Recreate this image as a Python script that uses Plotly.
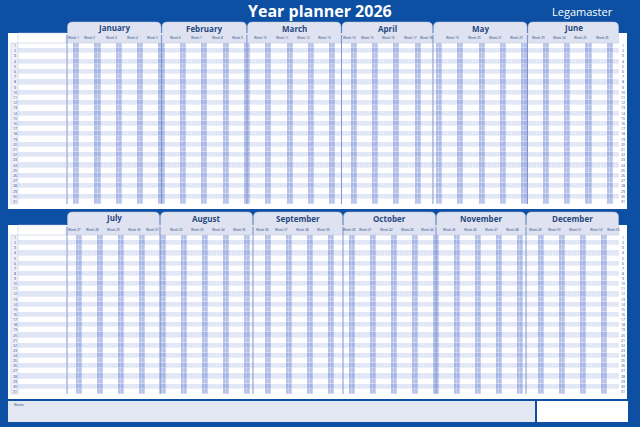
import plotly.graph_objects as go
import datetime as dt

title = "Year planner 2026"
brand = "Legamaster"
months_h1 = [1, 2, 3, 4, 5, 6]
months_h2 = [7, 8, 9, 10, 11, 12]
year = 2026
n_rows = 31

BG = "#0c4fa3"
TAB = "#dfe3f1"
DARK = "#27477f"

fig = go.Figure()
shapes = []
ann = []

CS = [[0, "#ffffff"], [0.2, "#ffffff"], [0.2, "#e1e6f6"], [0.45, "#e1e6f6"],
      [0.45, "#b6c2ea"], [0.8, "#b6c2ea"], [0.8, "#a5b4e3"], [1, "#a5b4e3"]]

def half(months_idx, top, grid_top, grid_bot, x_left=67, x_right=619):
    days = []
    for m in months_idx:
        d = dt.date(year, m, 1)
        while d.month == m:
            days.append(d)
            d += dt.timedelta(days=1)
    n = len(days)
    dx = (x_right - x_left) / n
    xe = [x_left + dx * i for i in range(n + 1)]
    rh = (grid_bot - grid_top) / n_rows
    ye = [grid_top + rh * r for r in range(n_rows + 1)]
    ys = [grid_top + rh * (r + 0.5) for r in range(n_rows)]
    z = []
    for r in range(n_rows):
        row = []
        for d in days:
            if d.weekday() >= 5:
                row.append(3 if r % 2 else 2)
            else:
                row.append(1 if r % 2 else 0)
        z.append(row)
    shapes.append(dict(type="rect", x0=8, x1=627, y0=grid_top - 10, y1=grid_bot + 5,
                       fillcolor="white", line_width=0, layer="below"))
    fig.add_trace(go.Heatmap(x=xe, y=ye, z=z, zmin=0, zmax=3, showscale=False, xgap=0.25, ygap=0.3,
                             colorscale=CS, hoverinfo="skip"))
    zn = [[1 if r % 2 else 0] for r in range(n_rows)]
    fig.add_trace(go.Heatmap(x=[18, x_left - 1], y=ye, z=zn, zmin=0, zmax=3, showscale=False, ygap=0.3,
                             colorscale=CS, hoverinfo="skip"))
    shapes.append(dict(type="rect", x0=11, x1=18, y0=grid_top, y1=grid_bot,
                       fillcolor="#eef1f8", line=dict(color="#b8c3df", width=0.5)))
    shapes.append(dict(type="rect", x0=18, x1=x_left - 1, y0=grid_top - 10, y1=grid_top,
                       fillcolor="white", line=dict(color="#b8c3df", width=0.5)))
    for r in range(n_rows):
        ann.append(dict(x=14.5, y=ys[r], text=str(r + 1), showarrow=False, font=dict(size=3.5, color=DARK)))
        ann.append(dict(x=623, y=ys[r], text=str(r + 1), showarrow=False, font=dict(size=3.5, color=DARK)))
    for m in months_idx:
        md = [i for i, d in enumerate(days) if d.month == m]
        a, b = x_left + dx * md[0], x_left + dx * (md[-1] + 1)
        shapes.append(dict(type="path",
                           path=f"M {a+0.5},{grid_top} L {a+0.5},{top+5} Q {a+0.5},{top} {a+5.5},{top} "
                                f"L {b-5.5},{top} Q {b-0.5},{top} {b-0.5},{top+5} L {b-0.5},{grid_top} Z",
                           fillcolor=TAB, line=dict(color="#b8c3df", width=0.5)))
        shapes.append(dict(type="line", x0=a, x1=a, y0=grid_top - 8, y1=grid_bot,
                           line=dict(color="#7f95cf", width=1)))
        ann.append(dict(x=(a + b) / 2, y=top + 6, text="<b>" + dt.date(year, m, 1).strftime("%B") + "</b>",
                        showarrow=False, font=dict(size=8, color=DARK, family="Open Sans")))
        weeks = {}
        for i in md:
            weeks.setdefault(days[i].isocalendar()[1], []).append(i)
        for w, ids in weeks.items():
            if len(ids) >= 4:
                ann.append(dict(x=x_left + dx * (sum(ids) / len(ids) + 0.5), y=grid_top - 5,
                                text="Week " + str(w), showarrow=False, font=dict(size=3.2, color=DARK)))

half(months_h1, 22, 43, 204)
half(months_h2, 212, 235, 394)

shapes.append(dict(type="rect", x0=8, x1=535, y0=401, y1=422, fillcolor="#e3e7f1", line_width=0))
shapes.append(dict(type="rect", x0=537, x1=628, y0=401, y1=422, fillcolor="white", line_width=0))
ann.append(dict(x=12, y=404, text="Notes", showarrow=False, xanchor="left", font=dict(size=3.5, color=DARK)))
ann.append(dict(x=320, y=11, text="<b>" + title + "</b>", showarrow=False,
                font=dict(size=16, color="white", family="Open Sans")))
ann.append(dict(x=582, y=11, text=brand, showarrow=False,
                font=dict(size=11, color="white", family="Open Sans")))

fig.update_layout(width=640, height=427, margin=dict(l=0, r=0, t=0, b=0),
                  paper_bgcolor=BG, plot_bgcolor=BG, shapes=shapes, annotations=ann,
                  xaxis=dict(range=[0, 640], visible=False, fixedrange=True),
                  yaxis=dict(range=[427, 0], visible=False, fixedrange=True))
fig.write_html("out.html", config={"displayModeBar": False})
with open("out.html", encoding="utf-8") as f:
    html = f.read()
html = html.replace("<head>", "<head><style>html,body{margin:0;padding:0;overflow:hidden;background:#0c4fa3}</style>", 1)
with open("out.html", "w", encoding="utf-8") as f:
    f.write(html)
